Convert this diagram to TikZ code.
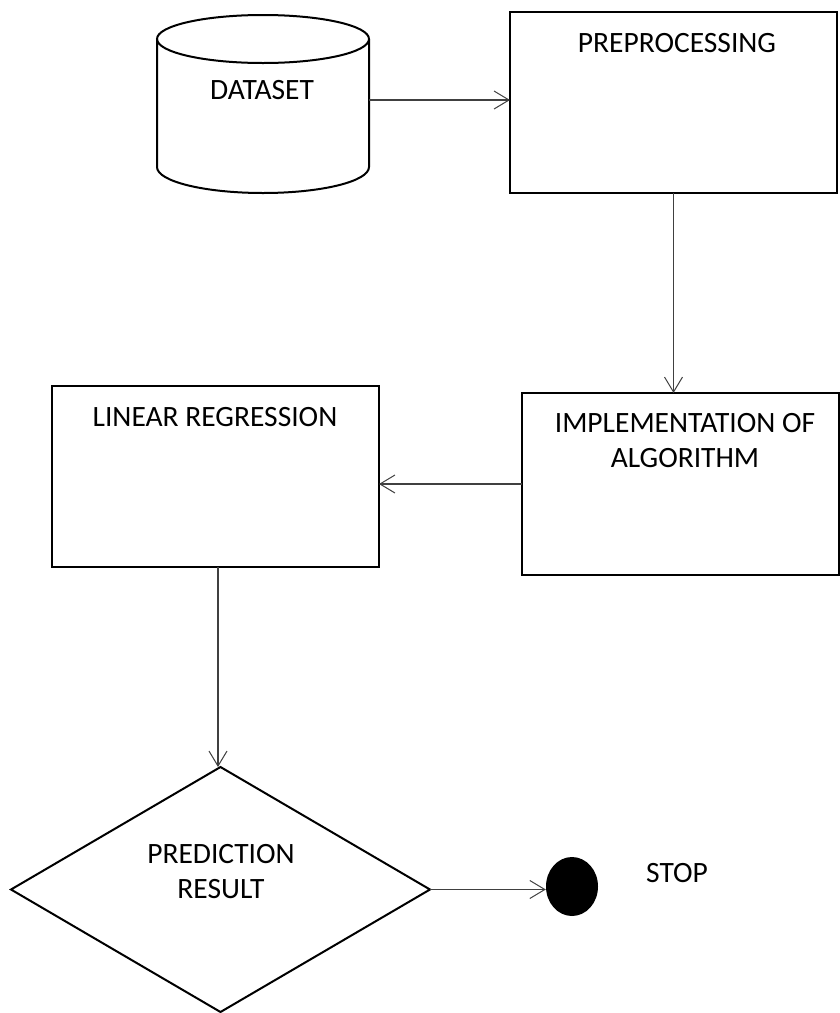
\documentclass[tikz,border=0pt]{standalone}
\usepackage{fontspec}
\setmainfont{Carlito}
\usetikzlibrary{shapes.geometric,arrows.meta}
\tikzset{
  shapeline/.style={draw=black, line width=2pt},
  box/.style={shapeline, rectangle, inner sep=0pt, outer sep=0pt},
  lbl/.style={font=\fontsize{29.5}{35}\selectfont, align=center, inner sep=0pt},
  conn/.style={draw=black!75, line width=1.1pt, -{Straight Barb[length=15pt,width=18pt,line width=1pt]}},
}
\begin{document}
\begin{tikzpicture}[x=1pt,y=1pt]
\useasboundingbox (0,0) rectangle (840,-1013);
% cylinder
\node[inner sep=0pt, outer sep=0pt, minimum width=212pt, minimum height=120pt] (dataset) at (263,-100) {};
\draw[shapeline] (263,-39) ellipse [x radius=106pt, y radius=24pt];
\draw[shapeline] (157,-39) -- (157,-167) arc[start angle=180, end angle=360, x radius=106pt, y radius=26pt] -- (369,-39);
\node[lbl] (datasettext) at (262,-90) {DATASET};
% boxes
\node[box, minimum width=327pt, minimum height=181pt] (pre) at (673.5,-102.5) {};
\node[lbl] (pretext) at (677,-43) {PREPROCESSING};
\node[box, minimum width=317pt, minimum height=182pt] (impl) at (680.5,-484) {};
\node[lbl] (impltext) at (685,-440.5) {IMPLEMENTATION OF\\ALGORITHM};
\node[box, minimum width=327pt, minimum height=181pt] (lr) at (215.5,-476.5) {};
\node[lbl] (lrtext) at (215,-417) {LINEAR REGRESSION};
% diamond
\node[shapeline, diamond, inner sep=0pt, outer sep=0pt, minimum width=419pt, minimum height=245pt] (dia) at (220.5,-889.5) {};
\node[lbl] (diatext) at (221,-871.5) {PREDICTION\\RESULT};
% stop
\node[ellipse, fill=black, draw=none, inner sep=0pt, minimum width=52pt, minimum height=59pt] (stop) at (572,-886.5) {};
\node[lbl] (stoptext) at (677,-873) {STOP};
% connectors
\draw[conn] (dataset.east) -- (dataset.east -| pre.west);
\draw[conn] (pre.south) -- (pre.south |- impl.north);
\draw[conn] (impl.west) -- (impl.west -| lr.east);
\draw[conn] ([xshift=2.5pt]lr.south) -- ([xshift=2.5pt]lr.south |- dia.north);
\draw[conn] (dia.east) -- (dia.east -| stop.west);
\end{tikzpicture}
\end{document}
